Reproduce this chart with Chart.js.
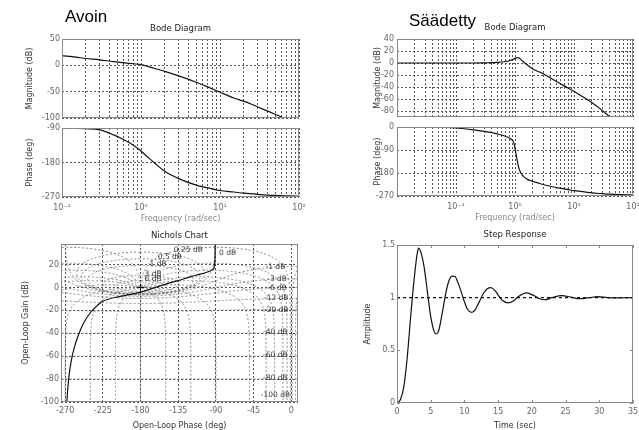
<!DOCTYPE html>
<html>
<head>
<meta charset="utf-8">
<script src="https://cdn.jsdelivr.net/npm/chart.js@4.4.1/dist/chart.umd.min.js"></script>
<style>
body { margin: 0; background: #fff; }
#wrap { position: relative; width: 639px; height: 430px; overflow: hidden; background: #fff; }
#wrap canvas { position: absolute; left: 0; top: 0; }
.big { position: absolute; font-family: "Liberation Sans", Arial, sans-serif; font-size: 17px; line-height: 17px; color: #000; white-space: nowrap; }
</style>
</head>
<body>
<div id="wrap">
  <canvas id="magA" width="639" height="430"></canvas>
  <canvas id="phaseA" width="639" height="430"></canvas>
  <canvas id="magB" width="639" height="430"></canvas>
  <canvas id="phaseB" width="639" height="430"></canvas>
  <canvas id="nichols" width="639" height="430"></canvas>
  <canvas id="step" width="639" height="430"></canvas>
  <div class="big" style="left:65px;top:8px">Avoin</div>
  <div class="big" style="left:409px;top:12px">Säädetty</div>
</div>
<script>
// ---- data ----

// "Avoin" (open loop) Bode
const freqA  = [0.1, 0.15, 0.2, 0.3, 0.45, 0.6, 0.8, 1, 1.25, 1.5, 2, 3, 5, 7, 10, 15, 20, 30, 50, 70, 100];
const magA   = [18.5, 15.5, 13, 10.5, 7, 5, 3, 1.5, -2.5, -6, -11.5, -20, -32, -41, -51, -62, -68, -79, -93, -102, -111];
const phaseA = [-91, -91, -92, -95, -108, -120, -135, -150, -168, -182, -203, -222, -239, -246, -253, -257, -260, -263, -266, -267, -268];

// "Säädetty" (tuned) Bode
const freqB  = [0.01, 0.05, 0.1, 0.2, 0.3, 0.5, 0.7, 0.85, 0.95, 1.05, 1.12, 1.2, 1.35, 1.6, 2, 3, 4, 6, 8, 10, 15, 20, 30, 40, 60, 100];
const magB   = [0, 0, 0, 0, 0.3, 1, 2.5, 4.5, 6.5, 8.5, 9, 7.5, 3, -3, -10, -18, -25, -35, -42, -47, -58, -66, -79, -89, -100, -115];
const phaseB = [0, -1, -4, -11, -17, -27, -37, -47, -60, -110, -145, -170, -190, -204, -213, -225, -232, -240, -245, -249, -254, -258, -261, -263, -265, -266];

// Nichols curve (open-loop phase, gain)
const nicholsPhase = [-90.8, -91, -91.5, -93, -100, -110, -120, -135, -150, -165, -180, -195, -210, -225, -235, -242, -248, -254, -259, -263, -266, -268, -268.5];
const nicholsGain  = [45, 30, 20, 16, 13.5, 11.5, 9.5, 6, 3, -0.5, -4, -6.5, -8.5, -12, -18, -24, -31, -41, -52, -65, -81, -100, -110];
const criticalPoint = [{x: -180, y: 0}];

// Nichols grid levels and their labels
const nicholsGainsDb = [6, 3, 1, 0.5, 0.25, 0, -1, -3, -6, -12, -20, -40, -60, -80, -100];
const nicholsPhasesDeg = [-1, -5, -10, -20, -30, -50, -90, -120, -150, -180, -210, -240, -270, -310, -330, -340, -350, -355, -359];
const nicholsLabelText  = ['0.25 dB', '0.5 dB', '1 dB', '3 dB', '6 dB', '0 dB', '-1 dB', '-3 dB', '-6 dB', '-12 dB', '-20 dB', '-40 dB', '-60 dB', '-80 dB', '-100 dB'];
const nicholsLabelPhase = [-123, -145, -159, -165, -165, -76, -19, -17, -17, -18, -18, -19, -19, -19, -19];
const nicholsLabelGain  = [32.7, 26.6, 20.2, 12, 7, 30.4, 17.8, 7.6, -0.3, -9.6, -19.3, -39.2, -59.4, -79.2, -94];

// Step response
const stepTime = [0, 0.5, 1, 1.5, 2, 2.5, 3, 3.2, 3.5, 4, 4.5, 5, 5.5, 5.8, 6.2, 6.7, 7.2, 7.7, 8.2, 8.6, 9, 9.5, 10, 10.5, 11.1, 11.6, 12.2, 12.8, 13.4, 13.9, 14.5, 15, 15.6, 16.5, 17.3, 18, 19.2, 20.3, 21, 21.9, 23, 24.4, 25.8, 27.1, 28.5, 29.8, 31.2, 32.5, 35];
const stepAmp  = [0, 0.03, 0.15, 0.42, 0.8, 1.15, 1.42, 1.47, 1.44, 1.3, 1.06, 0.82, 0.68, 0.655, 0.69, 0.85, 1.03, 1.16, 1.205, 1.2, 1.15, 1.06, 0.96, 0.885, 0.86, 0.885, 0.96, 1.04, 1.085, 1.095, 1.07, 1.025, 0.975, 0.95, 0.97, 1.01, 1.045, 1.02, 0.995, 0.98, 1.0, 1.02, 1.005, 0.99, 1.0, 1.01, 1.0, 0.998, 1.0];
const steadyTime = [0, 35];
const steadyAmp  = [1, 1];

// tick labels
const decadesA = [0.1, 1, 10, 100];
const decadeLabelsA = ['10⁻¹', '10⁰', '10¹', '10²'];
const decadesB = [0.01, 0.1, 1, 10, 100];
const decadeLabelsB = ['', '10⁻¹', '10⁰', '10¹', '10²'];
const magATicks = [-100, -50, 0, 50];
const phaseATicks = [-270, -180, -90];
const magBTicks = [-80, -60, -40, -20, 0, 20, 40];
const phaseBTicks = [-270, -180, -90, 0];
const nicholsGainTicks = [-100, -80, -60, -40, -20, 0, 20];
const nicholsPhaseTicks = [-270, -225, -180, -135, -90, -45, 0];
const stepTimeTicks = [0, 5, 10, 15, 20, 25, 30, 35];
const stepAmpTicks = [0, 0.5, 1, 1.5];

// ---- styling ----
const W = 639, H = 430;
const FONT = '"DejaVu Sans", sans-serif';
const tickFont = {family: FONT, size: 8};
const axisTitleFont = {family: FONT, size: 8, lineHeight: '9px'};
const tickColor = '#666';
const titleColor = '#333';
const gridColor = '#555';
const ngridColor = '#777';
const lineColor = '#111';

const pts = (xs, ys) => xs.map((v, i) => ({x: v, y: ys[i]}));

function yAxis(o) {
  return {
    type: 'linear', position: 'left', min: o.min, max: o.max,
    afterBuildTicks: s => { s.ticks = o.ticks.map(v => ({value: v})); },
    afterFit: s => { s.width = o.width; s.paddingTop = 0; s.paddingBottom = 0; },
    ticks: {font: tickFont, color: tickColor, padding: o.pad || 2, callback: v => String(v)},
    grid: {display: o.grid !== false, color: gridColor, drawTicks: false},
    border: {display: false, dash: [2, 2]},
    title: {display: true, text: o.title, font: axisTitleFont, color: titleColor, padding: 0}
  };
}

function xAxis(o) {
  return {
    type: 'linear', position: 'bottom', min: o.min, max: o.max,
    afterBuildTicks: s => { s.ticks = o.ticks.map(v => ({value: v})); },
    afterFit: s => { s.height = o.height; s.paddingLeft = 0; s.paddingRight = 0; },
    ticks: {font: tickFont, color: tickColor, padding: o.pad, maxRotation: 0, minRotation: 0, autoSkip: false, callback: v => String(v)},
    grid: {display: o.grid !== false, color: gridColor, drawTicks: false},
    border: {display: false, dash: [2, 2]},
    title: {display: true, text: o.title, font: axisTitleFont, color: titleColor, padding: 0}
  };
}

function logAxis(decades, labels, showLabels, height, title) {
  const lines = [];
  for (let i = 0; i < decades.length - 1; i++) {
    for (let k = 1; k < 10; k++) lines.push(decades[i] * k);
  }
  lines.push(decades[decades.length - 1]);
  return {
    type: 'logarithmic', position: 'bottom', min: decades[0], max: decades[decades.length - 1],
    afterBuildTicks: s => { s.ticks = lines.map(v => ({value: v})); },
    afterFit: s => { s.height = height; s.paddingLeft = 0; s.paddingRight = 0; },
    ticks: {display: showLabels, autoSkip: false, maxRotation: 0, minRotation: 0, font: tickFont, color: tickColor, padding: 6,
      callback: v => { const i = decades.findIndex(d => Math.abs(d - v) < d * 1e-6); return i < 0 ? '' : labels[i]; }},
    grid: {color: gridColor, drawTicks: false},
    border: {display: false, dash: [2, 2]},
    title: {display: !!title, text: title || '', font: axisTitleFont, color: '#888', padding: 0}
  };
}

// frame round the axes
const boxPlugin = {
  id: 'box',
  afterDatasetsDraw(chart) {
    const {ctx, chartArea: a} = chart;
    ctx.save();
    ctx.strokeStyle = '#888';
    ctx.lineWidth = 1;
    ctx.strokeRect(a.left + 0.5, a.top + 0.5, a.right - a.left - 1, a.bottom - a.top - 1);
    ctx.restore();
  }
};

// short tick marks inside the frame (step response)
const innerTicks = {
  id: 'innerTicks',
  afterDatasetsDraw(chart) {
    const {ctx, chartArea: a, scales: {x, y}} = chart;
    ctx.save();
    ctx.strokeStyle = '#888';
    ctx.lineWidth = 1;
    ctx.beginPath();
    x.ticks.forEach(t => {
      const px = Math.round(x.getPixelForValue(t.value)) + 0.5;
      ctx.moveTo(px, a.bottom); ctx.lineTo(px, a.bottom - 3);
      ctx.moveTo(px, a.top); ctx.lineTo(px, a.top + 3);
    });
    y.ticks.forEach(t => {
      const py = Math.round(y.getPixelForValue(t.value)) + 0.5;
      ctx.moveTo(a.left, py); ctx.lineTo(a.left + 3, py);
      ctx.moveTo(a.right, py); ctx.lineTo(a.right - 3, py);
    });
    ctx.stroke();
    ctx.restore();
  }
};

// Nichols grid: constant closed-loop gain and phase contours
const nicholsGrid = {
  id: 'nicholsGrid',
  beforeDatasetsDraw(chart) {
    const {ctx, chartArea: a, scales: {x, y}} = chart;
    const openLoop = (m, th) => {
      const r = th * Math.PI / 180;
      const dr = 1 - m * Math.cos(r), di = -m * Math.sin(r);
      return [th - Math.atan2(di, dr) * 180 / Math.PI, 20 * Math.log10(m / Math.hypot(dr, di))];
    };
    const stroke = list => {
      ctx.beginPath();
      list.forEach(([ph, db], i) => {
        const px = x.getPixelForValue(ph);
        const py = y.getPixelForValue(Math.max(-400, Math.min(400, db)));
        if (i) ctx.lineTo(px, py); else ctx.moveTo(px, py);
      });
      ctx.stroke();
    };
    ctx.save();
    ctx.beginPath();
    ctx.rect(a.left, a.top, a.right - a.left, a.bottom - a.top);
    ctx.clip();
    ctx.strokeStyle = ngridColor;
    ctx.lineWidth = 1;
    ctx.setLineDash([2, 2]);
    for (const shift of [0, 360]) {
      for (const gdb of nicholsGainsDb) {
        const m = Math.pow(10, gdb / 20), list = [];
        for (let th = -359.98; th < 0; th += (th > -6 || th < -354) ? 0.02 : 0.25) {
          const p = openLoop(m, th);
          list.push([p[0] + shift, p[1]]);
        }
        stroke(list);
      }
      for (const th of nicholsPhasesDeg) {
        const list = [];
        for (let g = -140; g <= 60; g += Math.abs(g) < 3 ? 0.005 : 0.25) {
          const p = openLoop(Math.pow(10, g / 20), th);
          list.push([p[0] + shift, p[1]]);
        }
        stroke(list);
      }
    }
    ctx.setLineDash([]);
    ctx.fillStyle = '#333';
    ctx.font = '7.5px ' + FONT;
    ctx.textAlign = 'center';
    ctx.textBaseline = 'middle';
    nicholsLabelText.forEach((t, i) => {
      ctx.fillText(t, x.getPixelForValue(nicholsLabelPhase[i]), y.getPixelForValue(nicholsLabelGain[i]));
    });
    ctx.restore();
  }
};

function titleOpts(text, padBottom) {
  return {display: true, text: text, fullSize: false, color: '#222',
    font: {family: FONT, size: 8.5, weight: 'normal', lineHeight: '10px'},
    padding: {top: 0, bottom: padBottom}};
}

// box: chart-area edges in page pixels, wy/hx: fixed axis sizes
function makeChart(id, box, datasets, scales, title, extra) {
  const titleH = title ? 10 + title.padding.bottom : 0;
  return new Chart(document.getElementById(id), {
    type: 'line',
    data: {datasets: datasets},
    options: {
      responsive: false, animation: false, devicePixelRatio: 1, events: [],
      layout: {padding: {left: box.l - box.wy, top: box.t - titleH, right: W - box.r, bottom: H - box.b - box.hx}},
      plugins: {legend: {display: false}, tooltip: {enabled: false}, title: title || {display: false}},
      elements: {point: {radius: 0}},
      scales: scales
    },
    plugins: [boxPlugin].concat(extra || [])
  });
}

const curve = (data, extra) => Object.assign({data: data, borderColor: lineColor, borderWidth: 1.2, fill: false, pointRadius: 0, cubicInterpolationMode: 'monotone'}, extra || {});

// Avoin - magnitude
makeChart('magA', {l: 62, t: 39, r: 299, b: 118, wy: 37, hx: 0},
  [curve(pts(freqA, magA))],
  {x: logAxis(decadesA, decadeLabelsA, false, 0),
   y: yAxis({min: -100, max: 50, ticks: magATicks, width: 37, title: 'Magnitude (dB)'})},
  titleOpts('Bode Diagram', 5));

// Avoin - phase
makeChart('phaseA', {l: 62, t: 128, r: 299, b: 197, wy: 37, hx: 26},
  [curve(pts(freqA, phaseA))],
  {x: logAxis(decadesA, decadeLabelsA, true, 26, 'Frequency (rad/sec)'),
   y: yAxis({min: -270, max: -90, ticks: phaseATicks, width: 37, title: 'Phase (deg)'})},
  null);

// Säädetty - magnitude
makeChart('magB', {l: 397, t: 39, r: 633, b: 117, wy: 24, hx: 0},
  [curve(pts(freqB, magB))],
  {x: logAxis(decadesB, decadeLabelsB, false, 0),
   y: yAxis({min: -90, max: 40, ticks: magBTicks, width: 24, pad: 3, title: 'Magnitude (dB)'})},
  titleOpts('Bode Diagram', 6));

// Säädetty - phase
makeChart('phaseB', {l: 397, t: 127, r: 633, b: 196, wy: 24, hx: 26},
  [curve(pts(freqB, phaseB))],
  {x: logAxis(decadesB, decadeLabelsB, true, 26, 'Frequency (rad/sec)'),
   y: yAxis({min: -270, max: 0, ticks: phaseBTicks, width: 24, pad: 3, title: 'Phase (deg)'})},
  null);

// Nichols chart
makeChart('nichols', {l: 61, t: 244, r: 298, b: 402, wy: 40, hx: 28},
  [curve(pts(nicholsPhase, nicholsGain), {cubicInterpolationMode: 'default', tension: 0.2}),
   {data: criticalPoint, showLine: false, pointStyle: 'cross', pointRadius: 4, borderColor: '#111', borderWidth: 1}],
  {x: xAxis({min: -275, max: 8, ticks: nicholsPhaseTicks, height: 28, pad: 4, title: 'Open-Loop Phase (deg)'}),
   y: yAxis({min: -100, max: 38, ticks: nicholsGainTicks, width: 40, title: 'Open-Loop Gain (dB)'})},
  titleOpts('Nichols Chart', 3), [nicholsGrid]);

// Step response
makeChart('step', {l: 397, t: 245, r: 633, b: 403, wy: 34, hx: 27},
  [curve(pts(stepTime, stepAmp)),
   curve(pts(steadyTime, steadyAmp), {borderDash: [3, 3], borderWidth: 1.2})],
  {x: xAxis({min: 0, max: 35, ticks: stepTimeTicks, height: 27, pad: 4, grid: false, title: 'Time (sec)'}),
   y: yAxis({min: 0, max: 1.5, ticks: stepAmpTicks, width: 34, grid: false, title: 'Amplitude'})},
  titleOpts('Step Response', 5), [innerTicks]);
</script>
</body>
</html>
